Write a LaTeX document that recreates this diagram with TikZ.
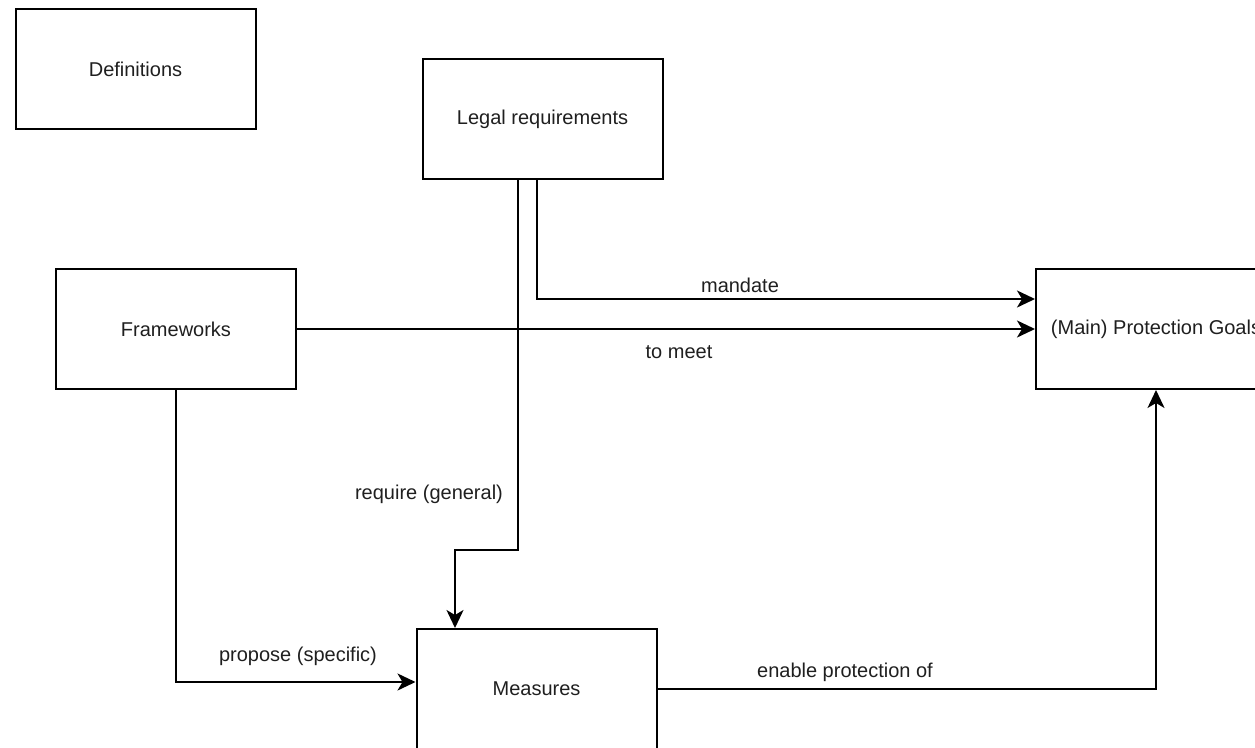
\documentclass[tikz,border=0pt]{standalone}
\usepackage{fontspec}
\setmainfont{Liberation Sans}
\usetikzlibrary{arrows.meta,calc}
\begin{document}
\begin{tikzpicture}[x=1pt,y=-1pt,
  box/.style={draw=black,line width=2pt,minimum width=240pt,minimum height=120pt,
    inner sep=0pt,font=\fontsize{20}{24}\selectfont,text=black!88},
  link/.style={draw=black,line width=2pt,-{Stealth[length=18pt,width=17pt,inset=5pt]}},
  lbl/.style={font=\fontsize{20}{24}\selectfont,text=black!88,inner sep=0pt}]
\clip (0,0) rectangle (1255,747);
% concept boxes
\node[box] (defs)  at (135.5,69)  {Definitions};
\node[box] (legal) at (542.5,119) {Legal requirements};
\node[box] (frame) at (176,329)   {Frameworks};
\node[box] (goals) at (1156,329)  {(Main) Protection Goals};
\node[box] (meas)  at (536.5,689) {Measures};
% relations
\draw[link] ($(legal.south)+(-24.5,0)$) -- ++(0,370) -| ($(meas.north)+(-81.5,0)$);
\draw[link] ($(legal.south)+(-5.5,0)$) |- ($(goals.west)+(0,-30)$);
\draw[link] (frame.east) -- (goals.west);
\draw[link] (frame.south) |- ($(meas.west)+(0,-7)$);
\draw[link] (meas.east) -| (goals.south);
% relation labels
\node[lbl] (lreq)  at (429,494) {require (general)};
\node[lbl] (lman)  at (740,285) {mandate};
\node[lbl] (lmeet) at (679,352) {to meet};
\node[lbl] (lprop) at (298,656) {propose (specific)};
\node[lbl] (lenab) at (845,672) {enable protection of};
\end{tikzpicture}
\end{document}
